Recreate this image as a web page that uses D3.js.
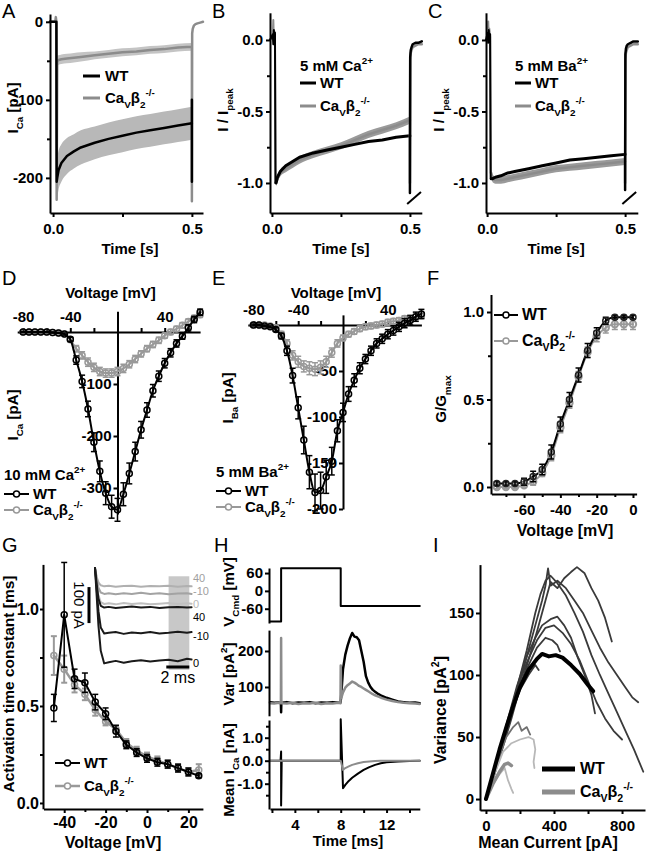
<!DOCTYPE html>
<html><head><meta charset="utf-8">
<script src="https://cdn.jsdelivr.net/npm/d3@7"></script>
<style>body{margin:0;background:#fff}</style>
</head><body><svg id="fig" width="646" height="853"></svg>
<script>
// ================= DATA =================
// Panel A: I_Ca traces (pA) vs time (s)
const tA = [0.015,0.02,0.03,0.05,0.075,0.1,0.15,0.2,0.25,0.3,0.35,0.4,0.45,0.5];
const wtA = [-200,-190,-181,-172,-166,-161,-155,-150,-146,-142,-139,-136,-133,-130];
const wtA_sem = [26,25,24,23,22,22,21,21,21,21,21,21,21,21];
const koA = [-50,-49,-48,-47,-46,-45,-43,-41,-39,-38,-36,-35,-33,-32];
const koA_sem = [7,6,6,6,6,6,5,5,5,5,5,5,5,5];
const tPreA = [-0.011,0.008,0.01,0.012,0.013];
const wtPreA = [0,0,0,0,-205];
const koPreA = [0,0,6,0,-228];
const tPostKoA = [0.5,0.5,0.501,0.503,0.507,0.513,0.52,0.53,0.54];
const koPostA = [-32,-230,-15,-9,-5,-3,-2,-1,0];
const tPostWtA = [0.5,0.5,0.5];
const wtPostA = [-130,-205,-100];

// Panel B: normalized, 5 mM Ca
const tB = [0.015,0.02,0.03,0.05,0.075,0.1,0.15,0.2,0.25,0.3,0.35,0.4,0.45,0.5];
const wtB = [-1.0,-0.96,-0.92,-0.88,-0.85,-0.82,-0.79,-0.77,-0.75,-0.73,-0.71,-0.70,-0.68,-0.67];
const koB = [-1.0,-0.97,-0.93,-0.90,-0.87,-0.84,-0.80,-0.77,-0.74,-0.70,-0.66,-0.63,-0.60,-0.56];
const tPreB = [-0.007,0.003,0.005,0.007,0.009,0.011,0.013];
const wtPreB = [0,0.04,-0.03,0.07,-0.02,0.05,-1.0];
const koPreB = [0,0.03,0.14,0.0,0.06,0.02,-1.0];
const tPostB = [0.5,0.5,0.501,0.503,0.506,0.51,0.52,0.53,0.543];
const wtPostB = [-0.67,-1.07,-0.12,-0.07,-0.05,-0.03,-0.02,-0.02,-0.01];
const koPostB = [-0.56,-1.0,-0.14,-0.09,-0.07,-0.05,-0.04,-0.03,-0.03];

// Panel C: normalized, 5 mM Ba
const tC = [0.015,0.02,0.03,0.05,0.075,0.1,0.15,0.2,0.25,0.3,0.35,0.4,0.45,0.5];
const wtC = [-0.97,-0.97,-0.96,-0.95,-0.93,-0.92,-0.90,-0.88,-0.86,-0.84,-0.83,-0.82,-0.81,-0.80];
const koC = [-0.93,-0.97,-0.98,-0.98,-0.97,-0.96,-0.94,-0.92,-0.90,-0.89,-0.88,-0.87,-0.86,-0.85];
const tPreC = [-0.004,0.002,0.004,0.006,0.008,0.011,0.013];
const wtPreC = [0,0.05,-0.02,0.07,0.0,0.04,-0.97];
const koPreC = [0,0.02,0.13,0.0,0.08,0.02,-0.93];
const tPostC = [0.5,0.5,0.501,0.503,0.506,0.51,0.52,0.53,0.546];
const wtPostC = [-0.80,-1.05,-0.10,-0.06,-0.04,-0.03,-0.02,-0.01,-0.01];
const koPostC = [-0.85,-1.0,-0.14,-0.09,-0.07,-0.05,-0.04,-0.03,-0.03];

// Panel D: I-V, 10 mM Ca
const vD = [-80,-75,-70,-65,-60,-55,-50,-45,-40,-35,-30,-25,-20,-15,-10,-5,0,5,10,15,20,25,30,35,40,45,50,55,60,65,70];
const wtD = [0,0,0,0,0,-1,-2,-4,-14,-54,-95,-148,-212,-268,-310,-336,-342,-312,-272,-230,-188,-150,-113,-85,-60,-40,-22,-8,8,24,38];
const wtD_err = [1,1,1,1,1,1,1,2,4,8,12,15,18,20,22,22,22,22,20,18,16,14,12,10,9,8,7,6,6,6,6];
const koD = [0,0,0,0,0,-1,-2,-4,-15,-32,-45,-58,-68,-76,-79,-79,-76,-70,-62,-52,-42,-32,-24,-16,-7,0,6,13,20,27,33];
const koD_err = [1,1,1,1,1,1,1,2,4,6,7,8,8,8,8,8,8,8,7,7,6,6,6,6,5,5,5,5,5,5,5];

// Panel E: I-V, 5 mM Ba
const vE = [-80,-75,-70,-65,-60,-55,-50,-45,-40,-35,-30,-25,-20,-15,-10,-5,0,5,10,15,20,25,30,35,40,45,50,55,60,65,70];
const wtE = [0,0,-1,-2,-5,-12,-28,-55,-90,-125,-160,-182,-180,-165,-148,-115,-95,-75,-60,-47,-37,-28,-20,-15,-10,-6,-2,2,5,9,12];
const wtE_err = [1,1,1,1,2,3,5,8,12,15,18,20,20,18,15,12,10,8,7,6,5,5,5,5,5,5,5,5,5,5,5];
const koE = [0,0,0,-1,-3,-10,-20,-33,-40,-45,-47,-48,-46,-40,-30,-20,-14,-10,-7,-4,-2,-1,0,1,3,4,5,7,8,9,10];
const koE_err = [1,1,1,1,2,3,4,5,6,6,7,7,7,6,5,4,3,3,3,3,3,3,3,3,3,3,3,3,3,3,3];

// Panel F: G/Gmax
const vF = [-75,-70,-65,-60,-55,-50,-45,-40,-35,-30,-25,-20,-15,-10,-5,0];
const gWT = [0.02,0.02,0.02,0.03,0.06,0.10,0.20,0.36,0.50,0.64,0.78,0.88,0.95,0.97,0.97,0.97];
const gWT_err = [0.01,0.01,0.01,0.02,0.03,0.03,0.04,0.04,0.04,0.04,0.04,0.03,0.02,0.01,0.01,0.01];
const gKO = [0.0,0.0,0.0,0.01,0.03,0.08,0.18,0.34,0.48,0.63,0.77,0.86,0.91,0.93,0.93,0.93];
const gKO_err = [0.01,0.01,0.01,0.01,0.02,0.02,0.03,0.03,0.03,0.03,0.03,0.03,0.03,0.03,0.03,0.03];

// Panel G: activation time constants (ms)
const vG = [-45,-40,-35,-30,-25,-20,-15,-10,-5,0,5,10,15,20,25];
const tauWT = [0.49,0.97,0.64,0.62,0.52,0.46,0.37,0.30,0.26,0.23,0.21,0.20,0.18,0.16,0.14];
const tauWT_err = [0.07,0.27,0.05,0.05,0.04,0.03,0.03,0.02,0.02,0.02,0.02,0.02,0.02,0.02,0.01];
const tauKO = [0.76,0.69,0.61,0.56,0.48,0.42,0.38,0.31,0.27,0.24,0.22,0.20,0.18,0.16,0.17];
const tauKO_err = [0.10,0.07,0.04,0.03,0.03,0.02,0.02,0.02,0.02,0.02,0.02,0.02,0.02,0.02,0.03];
// G inset traces (ms, pA)
const tInset = [0,0.15,0.3,0.5,0.8,1.2,1.8,2.5,3.2,4,4.8,5.6,6.4,7.2,8,8.4];
const inGray40 = [0,-25,-40,-48,-51,-49,-52,-50,-49,-52,-50,-51,-49,-52,-50,-51];
const inGrayM10 = [0,-30,-55,-68,-72,-70,-73,-70,-72,-69,-72,-70,-73,-71,-70,-72];
const inGray0 = [0,-40,-75,-95,-100,-98,-101,-97,-100,-98,-101,-99,-97,-100,-98,-99];
const inBlack40 = [0,-45,-85,-105,-110,-108,-111,-109,-107,-110,-108,-111,-109,-108,-110,-109];
const inBlackM10 = [0,-60,-120,-165,-182,-180,-178,-183,-179,-181,-178,-182,-180,-177,-180,-178];
const inBlack0 = [0,-80,-160,-230,-265,-262,-258,-263,-259,-256,-260,-257,-255,-259,-252,-254];
const insetLabels = ["40","-10","0","40","-10","0"];

// Panel H: command voltage, variance, mean current
const tCmd = [1.83,2.8,2.8,8.0,8.0,14.9];
const vCmd = [-103,-103,76,76,-51,-51];
const tVar = [1.83,2.2,2.6,2.78,2.8,2.82,2.9,3.3,3.8,4.3,4.8,5.3,5.8,6.3,6.8,7.3,7.8,7.98,8.0,8.05,8.2,8.4,8.6,8.8,9.0,9.2,9.4,9.6,9.8,10.0,10.2,10.4,10.6,10.8,11.0,11.3,11.6,12.0,12.5,13.0,13.5,14.0,14.5,14.9];
const varWT = [58,56,57,55,30,57,56,58,55,57,56,58,55,57,56,58,56,57,60,80,150,190,215,235,250,240,238,230,200,170,130,112,100,92,87,80,75,70,65,60,58,56,57,55];
const varKO = [55,54,56,55,236,60,55,54,56,53,55,54,56,53,55,54,56,55,160,70,85,98,105,110,115,112,108,103,100,96,92,88,84,80,77,73,69,65,61,58,56,55,54,53];
const tMean = [1.83,2.75,2.8,2.8,2.85,3.0,7.95,8.0,8.0,8.2,8.4,8.7,9.0,9.5,10,10.5,11,11.5,12,13,14,14.9];
const meanWT = [0,0,0.4,-1.95,0,0,0,0,1.8,-1.2,-1.05,-0.88,-0.74,-0.56,-0.40,-0.28,-0.18,-0.11,-0.07,-0.03,-0.01,0];
const meanKO = [0,0,0,0,0,0,0,0,0,-0.4,-0.32,-0.25,-0.18,-0.11,-0.06,-0.03,-0.01,0,0,0,0,0];

// Panel I: variance vs mean current (pA, pA^2)
const iCellsWT = [
  [[0,0],[50,20],[100,42],[150,65],[200,90],[250,112],[300,135],[350,160],[380,175],[420,170],[460,178],[500,183],[535,187],[580,182],[620,170],[660,160],[700,146],[740,127]],
  [[0,0],[60,25],[120,55],[180,85],[240,115],[290,140],[330,160],[350,172],[365,186],[380,172],[420,176],[470,170],[520,160],[570,150],[620,136],[670,122],[720,110],[770,100],[820,90],[860,82],[895,78]],
  [[0,0],[60,26],[120,57],[180,88],[240,120],[290,150],[320,165],[350,176],[380,180],[420,174],[470,164],[520,150],[570,135],[620,116],[670,100],[720,85],[770,70],[820,55],[870,40],[925,22]],
  [[0,0],[60,28],[120,60],[180,90],[240,115],[290,130],[330,140],[380,145],[420,147],[460,140],[500,130],[540,114],[580,100],[620,84],[641,69]],
  [[0,0],[60,27],[120,58],[180,88],[240,110],[300,128],[350,138],[400,140],[450,134],[500,125],[550,112],[600,95],[650,78],[700,65],[750,55],[800,48]],
  [[0,0],[60,28],[120,58],[180,85],[240,105],[300,122],[350,130],[390,128],[420,124],[435,119]],
  [[150,70],[200,88],[250,100],[290,108],[310,104]]
];
const iMeanWT = [[0,0],[40,20],[80,40],[120,58],[160,75],[200,90],[250,104],[300,113],[330,117],[370,115],[410,116],[450,114],[500,108],[550,101],[600,92],[630,87]];
const iCellsKO = [
  [[0,0],[40,15],[80,35],[120,50],[160,58],[190,62],[210,55],[240,58],[260,52]],
  [[0,0],[50,20],[100,38],[150,45],[200,48],[250,50],[280,48],[290,40],[280,30],[285,25]],
  [[0,0],[40,12],[80,20],[110,25],[130,15],[150,8],[160,5]]
];
const iMeanKO = [[0,0],[40,12],[80,22],[110,28],[130,29],[150,27]];

// ================= DRAWING =================
const FONT = "'Liberation Sans', Arial, Helvetica, sans-serif";
const svg = d3.select("#fig");
svg.append("rect").attr("width",646).attr("height",853).attr("fill","#fff");
const KOC = "#8c8c8c";
const zip = (a,b) => a.map((d,i)=>[d,b[i]]);
const fmtInt = d => (d<0?"-":"") + Math.abs(d);
const fmt1 = d => (d<0?"-":"") + Math.abs(d).toFixed(1);

function line(x,y,pts,color,w,curve){
  return svg.append("path").attr("d", d3.line().x(d=>x(d[0])).y(d=>y(d[1])).curve(curve||d3.curveLinear)(pts))
    .attr("fill","none").attr("stroke",color).attr("stroke-width",w).attr("stroke-linejoin","round").attr("stroke-linecap","round");
}
function band(x,y,t,m,s,color){
  svg.append("path").attr("d", d3.area().x(i=>x(t[i])).y0(i=>y(m[i]-s[i])).y1(i=>y(m[i]+s[i])).curve(d3.curveMonotoneX)(d3.range(t.length))).attr("fill",color);
}
function rich(x,y,parts,o={}){
  const fs=o.size||15;
  const t = svg.append("text").attr("x",x).attr("y",y).attr("font-family",FONT).attr("font-size",fs)
    .attr("font-weight",o.weight||"bold").attr("fill",o.color||"#000").attr("text-anchor",o.anchor||"start");
  if(o.rotate) t.attr("transform",`rotate(${o.rotate},${x},${y})`);
  let shift=0;
  parts.forEach(p=>{
    const s = typeof p==="string"?p:p[0]; const k = typeof p==="string"?null:p[1];
    const target = k==="sub"? fs*0.3 : k==="sup"? -fs*0.45 : 0;
    const ts = t.append("tspan").text(s).attr("dy", target-shift);
    if(k) ts.attr("font-size", fs*0.66);
    shift = target;
  });
  return t;
}
function axis(gen, scale, tx, ty, ticks, fmt, o={}){
  const a = gen(scale).tickValues(ticks).tickFormat(fmt).tickSizeOuter(0).tickSizeInner(o.tick||4).tickPadding(o.pad==null?3:o.pad);
  const g = svg.append("g").attr("transform",`translate(${tx},${ty})`).call(a);
  g.attr("font-size",o.size||15).attr("font-family",FONT).attr("font-weight","bold");
  g.select(".domain").attr("stroke-width",2);
  g.selectAll(".tick line").attr("stroke-width",2);
  if(o.minor){
    const m = gen(scale).tickValues(o.minor).tickFormat("").tickSizeOuter(0).tickSizeInner(3);
    const g2 = svg.append("g").attr("transform",`translate(${tx},${ty})`).call(m);
    g2.select(".domain").remove(); g2.selectAll(".tick line").attr("stroke-width",2);
  }
  return g;
}
function errBars(x,y,xs,ys,es,color,w){
  const g=svg.append("g").attr("stroke",color).attr("stroke-width",w||1.5);
  xs.forEach((v,i)=>{
    const cx=x(v), y1=y(ys[i]-es[i]), y2=y(ys[i]+es[i]);
    g.append("line").attr("x1",cx).attr("x2",cx).attr("y1",y1).attr("y2",y2);
    [y1,y2].forEach(yy=>g.append("line").attr("x1",cx-3).attr("x2",cx+3).attr("y1",yy).attr("y2",yy));
  });
}
function markers(x,y,xs,ys,color,r,w){
  svg.append("g").selectAll("circle").data(xs).join("circle")
    .attr("cx",d=>x(d)).attr("cy",(d,i)=>y(ys[i])).attr("r",r||3)
    .attr("fill","none").attr("stroke",color).attr("stroke-width",w||1.5);
}
function letter(s,x,y){ svg.append("text").attr("x",x).attr("y",y).text(s).attr("font-family",FONT).attr("font-size",20).attr("fill","#000"); }
const KO_LABEL = ["Ca",["V","sub"],"β",["2","sub"],["-/-","sup"]];
function legendLine(x1,x2,y,color,w,marker,textParts,tx,fs){
  svg.append("line").attr("x1",x1).attr("x2",x2).attr("y1",y).attr("y2",y).attr("stroke",color).attr("stroke-width",w);
  if(marker) svg.append("circle").attr("cx",(x1+x2)/2).attr("cy",y).attr("r",3).attr("fill","#fff").attr("stroke",color).attr("stroke-width",1.5);
  rich(tx,y+5,textParts,{size:fs||15});
}

// ---------- Panel A ----------
{
  const x = d3.scaleLinear([-0.011,0.54],[50,203]);
  const y = d3.scaleLinear([-245,10],[213,14]);
  band(x,y,tA,wtA,wtA_sem,"#b8b8b8");
  band(x,y,tA,koA,koA_sem,"#c4c4c4");
  line(x,y,zip(tPreA.concat(tA,tPostKoA),koPreA.concat(koA,koPostA)),KOC,2.5);
  line(x,y,zip(tPreA.concat(tA),wtPreA.concat(wtA)),"#000",2.5);
  line(x,y,zip(tPostWtA,wtPostA),"#000",2.5);
  axis(d3.axisLeft,y,50,0,[0,-100,-200],fmtInt,{minor:[-50,-150]});
  axis(d3.axisBottom,x,0,213,[0,0.25,0.5],d=>d===0.25?"":d.toFixed(1),{pad:6});
  rich(130,254,["Time [s]"],{anchor:"middle"});
  rich(18,108,["I",["Ca","sub"]," [pA]"],{anchor:"middle",rotate:-90});
  legendLine(83,100,76,"#000",3,false,["WT"],105);
  legendLine(83,100,98,KOC,3,false,KO_LABEL,105);
  letter("A",2,18);
}
// ---------- Panel B / C ----------
function normPanel(x0, t, wt, ko, tPre, wtPre, koPre, tPost, wtPost, koPost, ion, lx, letterS, dom){
  const x = d3.scaleLinear(dom,[x0-2,x0-2+(dom[1]-dom[0])*276]);
  const y = d3.scaleLinear([-1.21,0.19],[213,12.8]);
  const sem = t.map(()=>0.025);
  line(x,y,zip(tPre,koPre),KOC,2);
  band(x,y,t,ko,sem,"#9a9a9a");
  line(x,y,zip(t,ko),KOC,2.5);
  line(x,y,zip(tPre,wtPre),"#000",2);
  line(x,y,zip(t,wt),"#000",3);
  line(x,y,zip(tPost,koPost),KOC,2.5);
  line(x,y,zip(tPost,wtPost),"#000",2.5);
  axis(d3.axisLeft,y,x0-2,0,[0,-0.5,-1.0],fmt1,{minor:[-0.25,-0.75]});
  axis(d3.axisBottom,x,0,213,[0,0.25,0.5],d=>d===0.25?"":d.toFixed(1),{pad:6});
  // axis break mark
  svg.append("line").attr("x1",x(0.49)).attr("y1",204).attr("x2",x(0.54)).attr("y2",192).attr("stroke","#000").attr("stroke-width",2);
  rich(x(0.25),254,["Time [s]"],{anchor:"middle"});
  rich(x0-44,110,["I / I",["peak","sub"]],{anchor:"middle",rotate:-90});
  rich(lx,71,["5 mM ",ion,["2+","sup"]]);
  legendLine(lx,lx+16,83,"#000",3,false,["WT"],lx+20);
  legendLine(lx,lx+16,106,KOC,3,false,KO_LABEL,lx+20);
  letter(letterS,x0-60,18);
}
normPanel(272,tB,wtB,koB,tPreB,wtPreB,koPreB,tPostB,wtPostB,koPostB,"Ca",300,"B",[-0.007,0.543]);
normPanel(488,tC,wtC,koC,tPreC,wtPreC,koPreC,tPostC,wtPostC,koPostC,"Ba",515,"C",[-0.004,0.546]);

// ---------- Panel D / E ----------
function ivPanel(o){
  const x = d3.scaleLinear([-85,70],[o.x0-85*o.kx,o.x0+70*o.kx]);
  const y = d3.scaleLinear(o.ydom,[o.y0-o.ydom[0]*o.ky,o.y0-o.ydom[1]*o.ky]);
  axis(d3.axisLeft,y,o.x0,0,o.yticks,fmtInt,{pad:2});
  axis(d3.axisTop,x,0,o.y0,[-80,-60,-40,-20,20,40,60],d=>[-80,-40,40].includes(d)?fmtInt(d):"",{pad:6});
  line(x,y,zip(o.v,o.ko),"#999",2,d3.curveMonotoneX);
  errBars(x,y,o.v,o.ko,o.koErr,"#999",1.5);
  markers(x,y,o.v,o.ko,"#999",3,1.5);
  line(x,y,zip(o.v,o.wt),"#000",2,d3.curveMonotoneX);
  errBars(x,y,o.v,o.wt,o.wtErr,"#000",1.5);
  markers(x,y,o.v,o.wt,"#000",3,1.5);
  rich(o.x0-7,298,["Voltage [mV]"],{anchor:"middle"});
  rich(o.ylx,o.yly,["I",[o.ion,"sub"]," [pA]"],{anchor:"middle",rotate:-90});
  rich(o.lx,o.ly,[o.conc+" mM ",o.ion,["2+","sup"]]);
  legendLine(o.lx,o.lx+25,o.ly+14,"#000",2,true,["WT"],o.lx+29);
  legendLine(o.lx,o.lx+25,o.ly+30,"#999",2,true,KO_LABEL,o.lx+29);
}
ivPanel({x0:117.5,kx:1.18,y0:332,ky:0.52,ydom:[-350,40],yticks:[-100,-200,-300],v:vD,wt:wtD,wtErr:wtD_err,ko:koD,koErr:koD_err,
  ion:"Ca",conc:"10",lx:4,ly:480,ylx:18,yly:415});
ivPanel({x0:343,kx:1.12,y0:325,ky:0.92,ydom:[-200,11],yticks:[-50,-100,-150,-200],v:vE,wt:wtE,wtErr:wtE_err,ko:koE,koErr:koE_err,
  ion:"Ba",conc:"5",lx:216,ly:477,ylx:233,yly:398});
letter("D",2,285); letter("E",212,285);

// ---------- Panel F ----------
{
  const x = d3.scaleLinear([-78,2],[491.4,636.6]);
  const y = d3.scaleLinear([-0.04,1.1],[494,294.5]);
  line(x,y,zip(vF,gKO),"#999",2,d3.curveMonotoneX);
  line(x,y,zip(vF,gWT),"#000",2,d3.curveMonotoneX);
  errBars(x,y,vF,gKO,gKO_err,"#999",1.5);
  markers(x,y,vF,gKO,"#999",3.2,2);
  errBars(x,y,vF,gWT,gWT_err,"#000",1.5);
  markers(x,y,vF,gWT,"#222",3,1.5);
  axis(d3.axisLeft,y,491,0,[0,0.5,1.0],fmt1,{minor:[0.25,0.75],pad:3});
  axis(d3.axisBottom,x,0,494,[-60,-40,-20,0],fmtInt,{minor:[-70,-50,-30,-10],pad:6});
  rich(565,536,["Voltage [mV]"],{anchor:"middle",size:16});
  rich(446,399,["G/G",["max","sub"]],{anchor:"middle",rotate:-90});
  legendLine(494,518,315,"#000",2,true,["WT"],522,16);
  legendLine(494,518,341,"#999",2,true,KO_LABEL,522,16);
  letter("F",427,285);
}

// ---------- Panel G ----------
{
  const x = d3.scaleLinear([-50,27],[43.5,202.9]);
  const y = d3.scaleLinear([-0.03,1.23],[808.8,564.4]);
  // inset
  const xi = d3.scaleLinear([0,8.4],[95,191.6]);
  const yi = d3.scaleLinear([-300,0],[676,568]);
  svg.append("rect").attr("x",xi(6.4)).attr("y",yi(-23)).attr("width",xi(8.2)-xi(6.4)).attr("height",yi(-283)-yi(-23)).attr("fill","#c8c8c8");
  const insetSets = [[inGray40,"#b0b0b0"],[inGrayM10,"#a3a3a3"],[inGray0,"#c0c0c0"],[inBlack40,"#1a1a1a"],[inBlackM10,"#1a1a1a"],[inBlack0,"#1a1a1a"]];
  insetSets.forEach(([arr,c])=> line(xi,yi,zip(tInset,arr),c,2));
  const labColors = ["#a0a0a0","#a0a0a0","#b8b8b8","#000","#000","#000"];
  const labY = [582,595,608,621,640,667];
  insetLabels.forEach((s,i)=> svg.append("text").attr("x",193).attr("y",labY[i]).text(s).attr("font-family",FONT).attr("font-size",11).attr("fill",labColors[i]));
  // scale bars
  svg.append("line").attr("x1",89).attr("x2",89).attr("y1",yi(-53)).attr("y2",yi(-153)).attr("stroke","#000").attr("stroke-width",3);
  rich(74,yi(-103),["100 pA"],{anchor:"middle",rotate:90,weight:"normal",size:15});
  svg.append("line").attr("x1",xi(6.2)).attr("x2",xi(8.2)).attr("y1",667).attr("y2",667).attr("stroke","#000").attr("stroke-width",3);
  rich(xi(7.2),683,["2 ms"],{anchor:"middle",weight:"normal",size:16});
  // data
  line(x,y,zip(vG,tauKO),"#999",2.5);
  errBars(x,y,vG,tauKO,tauKO_err,"#999",2);
  markers(x,y,vG,tauKO,"#999",3,1.5);
  line(x,y,zip(vG,tauWT),"#000",2);
  errBars(x,y,vG,tauWT,tauWT_err,"#000",1.5);
  markers(x,y,vG,tauWT,"#000",3,1.5);
  axis(d3.axisLeft,y,43,0,[0,0.5,1.0],fmt1,{minor:[0.25,0.75],size:16,tick:3,pad:1});
  axis(d3.axisBottom,x,0,809,[-40,-20,0,20],fmtInt,{minor:[-30,-10,10],size:16,pad:4});
  rich(113,848,["Voltage [mV]"],{anchor:"middle",size:16});
  rich(14,684,["Activation time constant [ms]"],{anchor:"middle",rotate:-90,size:15.5});
  legendLine(55,80,763,"#000",2,true,["WT"],84);
  legendLine(55,80,786,"#999",2.5,true,KO_LABEL,84);
  letter("G",2,552);
}

// ---------- Panel H ----------
{
  const x = d3.scaleLinear([1.83,14.9],[270,419.8]);
  const yV = d3.scaleLinear([-108,77],[623,568]);
  const yVar = d3.scaleLinear([20,258],[715.8,630.1]);
  const yM = d3.scaleLinear([-2.1,1.77],[809,720]);
  line(x,yV,zip(tCmd,vCmd),"#000",2);
  line(x,yVar,zip(tVar,varWT),"#000",2.5);
  line(x,yVar,zip(tVar,varKO),"#8c8c8c",2.5);
  line(x,yM,zip(tMean,meanWT),"#000",2);
  line(x,yM,zip(tMean,meanKO),"#8c8c8c",2);
  axis(d3.axisLeft,yV,269,0,[60,0,-60],fmtInt,{pad:2});
  axis(d3.axisLeft,yVar,269,0,[100,200],fmtInt,{pad:2});
  axis(d3.axisLeft,yM,269,0,[1.0,0.0,-1.0],fmt1,{pad:2,minor:[0.5,-0.5,-1.5,1.5]});
  axis(d3.axisBottom,x,0,809,[2,4,6,8,10,12,14],d=>[4,8,12].includes(d)?String(d):"",{pad:6});
  rich(348,846,["Time [ms]"],{anchor:"middle"});
  rich(234,592,["V",["Cmd","sub"]," [mV]"],{anchor:"middle",rotate:-90});
  rich(234,674,["Var [pA",["2","sup"],"]"],{anchor:"middle",rotate:-90});
  rich(234,770,["Mean I",["Ca","sub"]," [nA]"],{anchor:"middle",rotate:-90});
  letter("H",214,552);
}

// ---------- Panel I ----------
{
  const x = d3.scaleLinear([-35,935],[480,645]);
  const y = d3.scaleLinear([-9,189],[810.2,564.6]);
  iCellsWT.forEach(c=> line(x,y,c,"#3a3a3a",1.8));
  iCellsKO.forEach((c,i)=> line(x,y,c,i===0?"#707070":"#b8b8b8",1.8));
  line(x,y,iMeanKO,"#8c8c8c",3.5);
  line(x,y,iMeanWT,"#000",4);
  axis(d3.axisLeft,y,480,0,[0,50,100,150],fmtInt,{pad:2});
  axis(d3.axisBottom,x,0,810,[0,200,400,600,800],d=>[0,400,800].includes(d)?String(d):"",{pad:6});
  rich(548,848,["Mean Current [pA]"],{anchor:"middle",size:16});
  rich(446,710,["Variance [pA",["2","sup"],"]"],{anchor:"middle",rotate:-90,size:16});
  legendLine(542,575,769,"#000",5,false,["WT"],580,16);
  legendLine(542,575,792,"#8c8c8c",5,false,KO_LABEL,580,16);
  letter("I",433,552);
}
</script>
</body></html>
